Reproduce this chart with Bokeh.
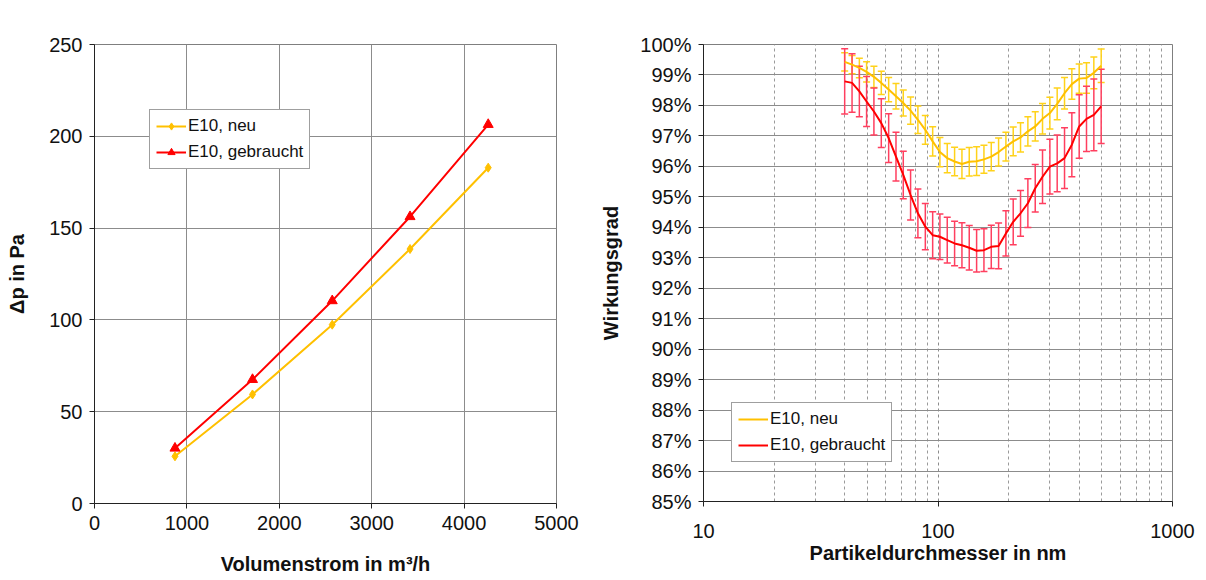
from bokeh.plotting import figure
from bokeh.layouts import row
from bokeh.models import (Range1d, FixedTicker, PrintfTickFormatter, CustomJSTickFormatter,
                          Legend, LegendItem, Whisker, TeeHead, ColumnDataSource)
from bokeh.embed import file_html
from bokeh.resources import INLINE

# ---------------- data: left chart ----------------
flow_neu = [871, 1710, 2573, 3415, 4261]
dp_neu = [25.7, 59.4, 97.4, 138.6, 182.9]
flow_geb = [871, 1710, 2573, 3415, 4261]
dp_geb = [30.1, 67.5, 110.4, 156.2, 206.4]
left_xticks = [0, 1000, 2000, 3000, 4000, 5000]
left_yticks = [0, 50, 100, 150, 200, 250]

# ---------------- data: right chart ----------------
d_nm = [40.0, 43.0, 46.2, 49.6, 53.3, 57.3, 61.6, 66.2, 71.1, 76.4, 82.1, 88.3,
        94.9, 101.9, 109.5, 117.7, 126.5, 135.9, 146.1, 157.0, 168.7, 181.3, 194.8, 209.3,
        224.9, 241.7, 259.8, 279.1, 300.0, 322.3, 346.4, 372.2, 400.0, 429.8, 461.9, 496.4]
eff_neu = [99.43, 99.34, 99.23, 99.10, 98.94, 98.74, 98.52, 98.30, 98.08, 97.83, 97.53, 97.20,
           96.82, 96.47, 96.27, 96.16, 96.08, 96.15, 96.17, 96.23, 96.32, 96.47, 96.65, 96.82,
           96.95, 97.15, 97.31, 97.56, 97.75, 98.05, 98.40, 98.70, 98.88, 98.90, 99.07, 99.30]
err_neu = [0.30, 0.30, 0.32, 0.33, 0.35, 0.38, 0.40, 0.42, 0.43, 0.45, 0.45, 0.47,
           0.48, 0.48, 0.48, 0.47, 0.48, 0.47, 0.47, 0.46, 0.46, 0.46, 0.47, 0.47,
           0.48, 0.48, 0.48, 0.50, 0.52, 0.52, 0.52, 0.50, 0.48, 0.50, 0.52, 0.55]
eff_geb = [98.79, 98.74, 98.46, 98.13, 97.80, 97.42, 96.93, 96.32, 95.72, 95.06, 94.46, 94.02,
           93.74, 93.69, 93.58, 93.47, 93.41, 93.33, 93.23, 93.25, 93.36, 93.39, 93.80, 94.18,
           94.46, 94.79, 95.28, 95.66, 95.99, 96.10, 96.27, 96.71, 97.31, 97.56, 97.69, 97.97]
err_geb = [1.07, 0.96, 0.83, 0.82, 0.77, 0.80, 0.80, 0.80, 0.78, 0.82, 0.80, 0.76,
           0.77, 0.75, 0.75, 0.73, 0.74, 0.73, 0.70, 0.70, 0.71, 0.75, 0.74, 0.75,
           0.75, 0.80, 0.78, 0.88, 0.90, 0.93, 1.00, 1.05, 1.04, 1.07, 1.18, 1.22]
right_yticks = list(range(85, 101))
right_xticks = [10, 100, 1000]
right_xminor = [20, 30, 40, 50, 60, 70, 80, 90, 200, 300, 400, 500, 600, 700, 800, 900]

FONT = "Liberation Sans"
YEL = "#FFC000"
RED = "#FF0000"
GRID = "#8c8c8c"


def style(p):
    p.outline_line_color = "#7f7f7f"
    p.background_fill_color = "white"
    p.border_fill_color = "white"
    for ax in (p.xaxis[0], p.yaxis[0]):
        ax.major_label_text_font = FONT
        ax.major_label_text_font_size = "20px"
        ax.major_label_text_color = "#111111"
        ax.major_label_standoff = 7
        ax.axis_label_text_font = FONT
        ax.axis_label_text_font_size = "20px"
        ax.axis_label_text_font_style = "bold"
        ax.axis_label_text_color = "#111111"
        ax.axis_line_color = "#222222"
        ax.major_tick_line_color = "#222222"
        ax.major_tick_out = 5
        ax.major_tick_in = 0
        ax.minor_tick_out = 0
        ax.minor_tick_in = 0
    p.xgrid.grid_line_color = GRID
    p.ygrid.grid_line_color = GRID


def style_legend(leg):
    leg.label_text_font = FONT
    leg.label_text_font_size = "17px"
    leg.label_text_color = "#111111"
    leg.border_line_color = "#404040"
    leg.border_line_width = 1
    leg.background_fill_alpha = 1
    leg.glyph_width = 30
    leg.glyph_height = 18
    leg.label_standoff = 2
    leg.label_height = 18
    leg.spacing = 6
    leg.padding = 6
    leg.margin = 0


# ---------------- left figure ----------------
p1 = figure(frame_width=462, frame_height=459, min_border_left=94, min_border_top=42,
            min_border_bottom=78, min_border_right=41,
            x_range=Range1d(0, 5000), y_range=Range1d(0, 250),
            output_backend="svg", toolbar_location=None)
style(p1)
p1.xaxis.ticker = FixedTicker(ticks=left_xticks)
p1.yaxis.ticker = FixedTicker(ticks=left_yticks)
p1.xaxis.axis_label = "Volumenstrom in m³/h"
p1.yaxis.axis_label = "Δp in Pa"
p1.xaxis.axis_label_standoff = 20
p1.yaxis.axis_label_standoff = 18

l_neu = p1.line(flow_neu, dp_neu, line_color=YEL, line_width=2)
m_neu = p1.scatter(flow_neu, dp_neu, marker="diamond", size=9, fill_color=YEL, line_color=YEL)
l_geb = p1.line(flow_geb, dp_geb, line_color=RED, line_width=2)
m_geb = p1.scatter(flow_geb, dp_geb, marker="triangle", size=10, fill_color=RED, line_color=RED)

leg1 = Legend(items=[LegendItem(label="E10, neu", renderers=[l_neu, m_neu]),
                     LegendItem(label="E10, gebraucht", renderers=[l_geb, m_geb])],
              location=(55, 334), orientation="vertical")
style_legend(leg1)
p1.add_layout(leg1, "center")

# ---------------- right figure ----------------
p2 = figure(frame_width=469, frame_height=457, min_border_left=105, min_border_top=44,
            min_border_bottom=77, min_border_right=26,
            x_axis_type="log", x_range=Range1d(10, 1000), y_range=Range1d(85, 100),
            output_backend="svg", toolbar_location=None)
style(p2)
p2.xaxis.ticker = FixedTicker(ticks=right_xticks, minor_ticks=right_xminor)
p2.xaxis.formatter = CustomJSTickFormatter(code="return tick.toFixed(0);")
p2.yaxis.ticker = FixedTicker(ticks=right_yticks)
p2.yaxis.formatter = PrintfTickFormatter(format="%d%%")
p2.xaxis.axis_label = "Partikeldurchmesser in nm"
p2.yaxis.axis_label = "Wirkungsgrad"
p2.xaxis.major_label_standoff = 17
p2.xaxis.axis_label_standoff = 1
p2.yaxis.axis_label_standoff = 15
p2.xgrid.minor_grid_line_color = "#9a9a9a"
p2.xgrid.minor_grid_line_dash = "3 3"
p2.xgrid.grid_line_dash = "3 3"

src_neu = ColumnDataSource(dict(x=d_nm,
                                lower=[v - e for v, e in zip(eff_neu, err_neu)],
                                upper=[v + e for v, e in zip(eff_neu, err_neu)]))
src_geb = ColumnDataSource(dict(x=d_nm,
                                lower=[v - e for v, e in zip(eff_geb, err_geb)],
                                upper=[v + e for v, e in zip(eff_geb, err_geb)]))

w_neu = Whisker(source=src_neu, base="x", lower="lower", upper="upper", dimension="height",
                line_color="#FFD21A", line_width=1.5,
                upper_head=TeeHead(size=7, line_color="#FFD21A", line_width=1.5),
                lower_head=TeeHead(size=7, line_color="#FFD21A", line_width=1.5))
w_geb = Whisker(source=src_geb, base="x", lower="lower", upper="upper", dimension="height",
                line_color="#FF3F5F", line_width=1.5,
                upper_head=TeeHead(size=7, line_color="#FF3F5F", line_width=1.5),
                lower_head=TeeHead(size=7, line_color="#FF3F5F", line_width=1.5))
p2.add_layout(w_neu)
p2.add_layout(w_geb)

r_neu = p2.line(d_nm, eff_neu, line_color=YEL, line_width=2)
r_geb = p2.line(d_nm, eff_geb, line_color=RED, line_width=2)

leg2 = Legend(items=[LegendItem(label="E10, neu", renderers=[r_neu]),
                     LegendItem(label="E10, gebraucht", renderers=[r_geb])],
              location=(28, 39), orientation="vertical")
style_legend(leg2)
p2.add_layout(leg2, "center")

layout = row(p1, p2)
open("out.html", "w").write(file_html(layout, INLINE))
